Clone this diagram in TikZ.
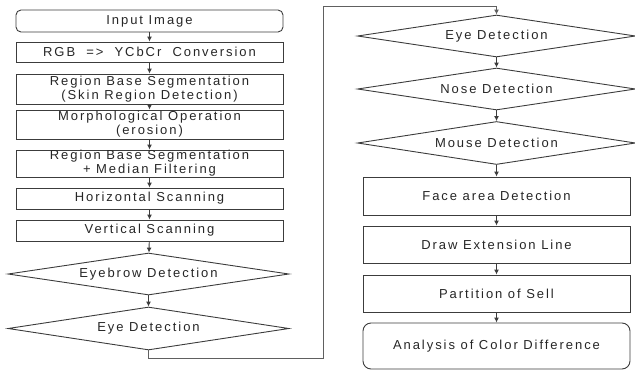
\documentclass[tikz,border=0pt]{standalone}
\usepackage{fontspec}
\setmainfont{Liberation Sans}[LetterSpace=15]
\usetikzlibrary{shapes.geometric,arrows.meta}
\definecolor{ink}{HTML}{262626}
\definecolor{wire}{HTML}{3C3C3C}
\begin{document}
\begin{tikzpicture}[x=1pt,y=-1pt,
  every node/.style={font=\fontsize{13}{14}\selectfont, text=ink, align=center},
  procbox/.style={draw=wire, line width=0.9pt, rectangle, inner sep=0pt, minimum width=#1},
  procbox/.default=267,
  endbox/.style={procbox=#1, rounded corners=5pt},
  decide/.style={draw=wire, line width=0.9pt, diamond, aspect=6.6, inner sep=0pt, minimum width=#1},
  decide/.default=280,
  flow/.style={draw=wire, line width=0.9pt, -{Latex[length=5pt,width=5pt]}},
  loop/.style={draw=gray!75!black, line width=0.9pt, -{Latex[length=5pt,width=5pt]}}
]
\useasboundingbox (0,0) rectangle (635,370);

% left column
\node[endbox, minimum height=22] (in) at (149.5,21) {Input Image};
\node[procbox, minimum height=20] (rgb) at (149.5,52) {RGB\ \ =>\ \ YCbCr\ \ Conversion};
\node[procbox, minimum height=30] (seg1) at (149.5,89) {Region Base Segmentation\\(Skin Region Detection)};
\node[procbox, minimum height=29] (morph) at (149.5,124.5) {Morphological Operation\\(erosion)};
\node[procbox, minimum height=27] (seg2) at (149.5,163.5) {Region Base Segmentation\\+ Median Filtering};
\node[procbox, minimum height=21] (hor) at (149.5,198.5) {Horizontal Scanning};
\node[procbox, minimum height=21] (ver) at (149.5,230.5) {Vertical Scanning};
\node[decide=281, minimum height=42] (brow) at (148.5,274) {Eyebrow Detection};
\node[decide=281, minimum height=43] (eyeA) at (148.5,328.5) {Eye Detection};

% right column
\node[decide=278, minimum height=42] (eyeB) at (496.5,36) {Eye Detection};
\node[decide=278, minimum height=42] (nose) at (496.5,89) {Nose Detection};
\node[decide=278, minimum height=43] (mouth) at (496.5,143) {Mouse Detection};
\node[procbox=267, minimum height=38] (face) at (496.5,196) {Face area Detection};
\node[procbox=267, minimum height=37] (ext) at (496.5,244.5) {Draw Extension Line};
\node[procbox=267, minimum height=37] (part) at (496.5,293.5) {Partition of Sell};
\node[procbox=267, minimum height=46, rounded corners=8pt] (ana) at (496.5,346) {Analysis of Color Difference};

% links
\draw[flow] (in) -- (rgb);
\draw[flow] (rgb) -- (seg1);
\draw[flow] (seg1) -- (morph);
\draw[flow] (morph) -- (seg2);
\draw[flow] (seg2) -- (hor);
\draw[flow] (hor) -- (ver);
\draw[flow] (ver) -- (brow);
\draw[flow] (brow) -- (eyeA);
\coordinate (down) at (148.5,358);
\coordinate (turnR) at (323,358);
\coordinate (turnU) at (323,6);
\coordinate (over) at (496.5,6);
\draw[loop] (eyeA.south) -- (down) -- (turnR) -- (turnU) -- (over) -- (eyeB.north);
\draw[flow] (eyeB) -- (nose);
\draw[flow] (nose) -- (mouth);
\draw[flow] (mouth) -- (face);
\draw[flow] (face) -- (ext);
\draw[flow] (ext) -- (part);
\draw[flow] (part) -- (ana);
\end{tikzpicture}
\end{document}
